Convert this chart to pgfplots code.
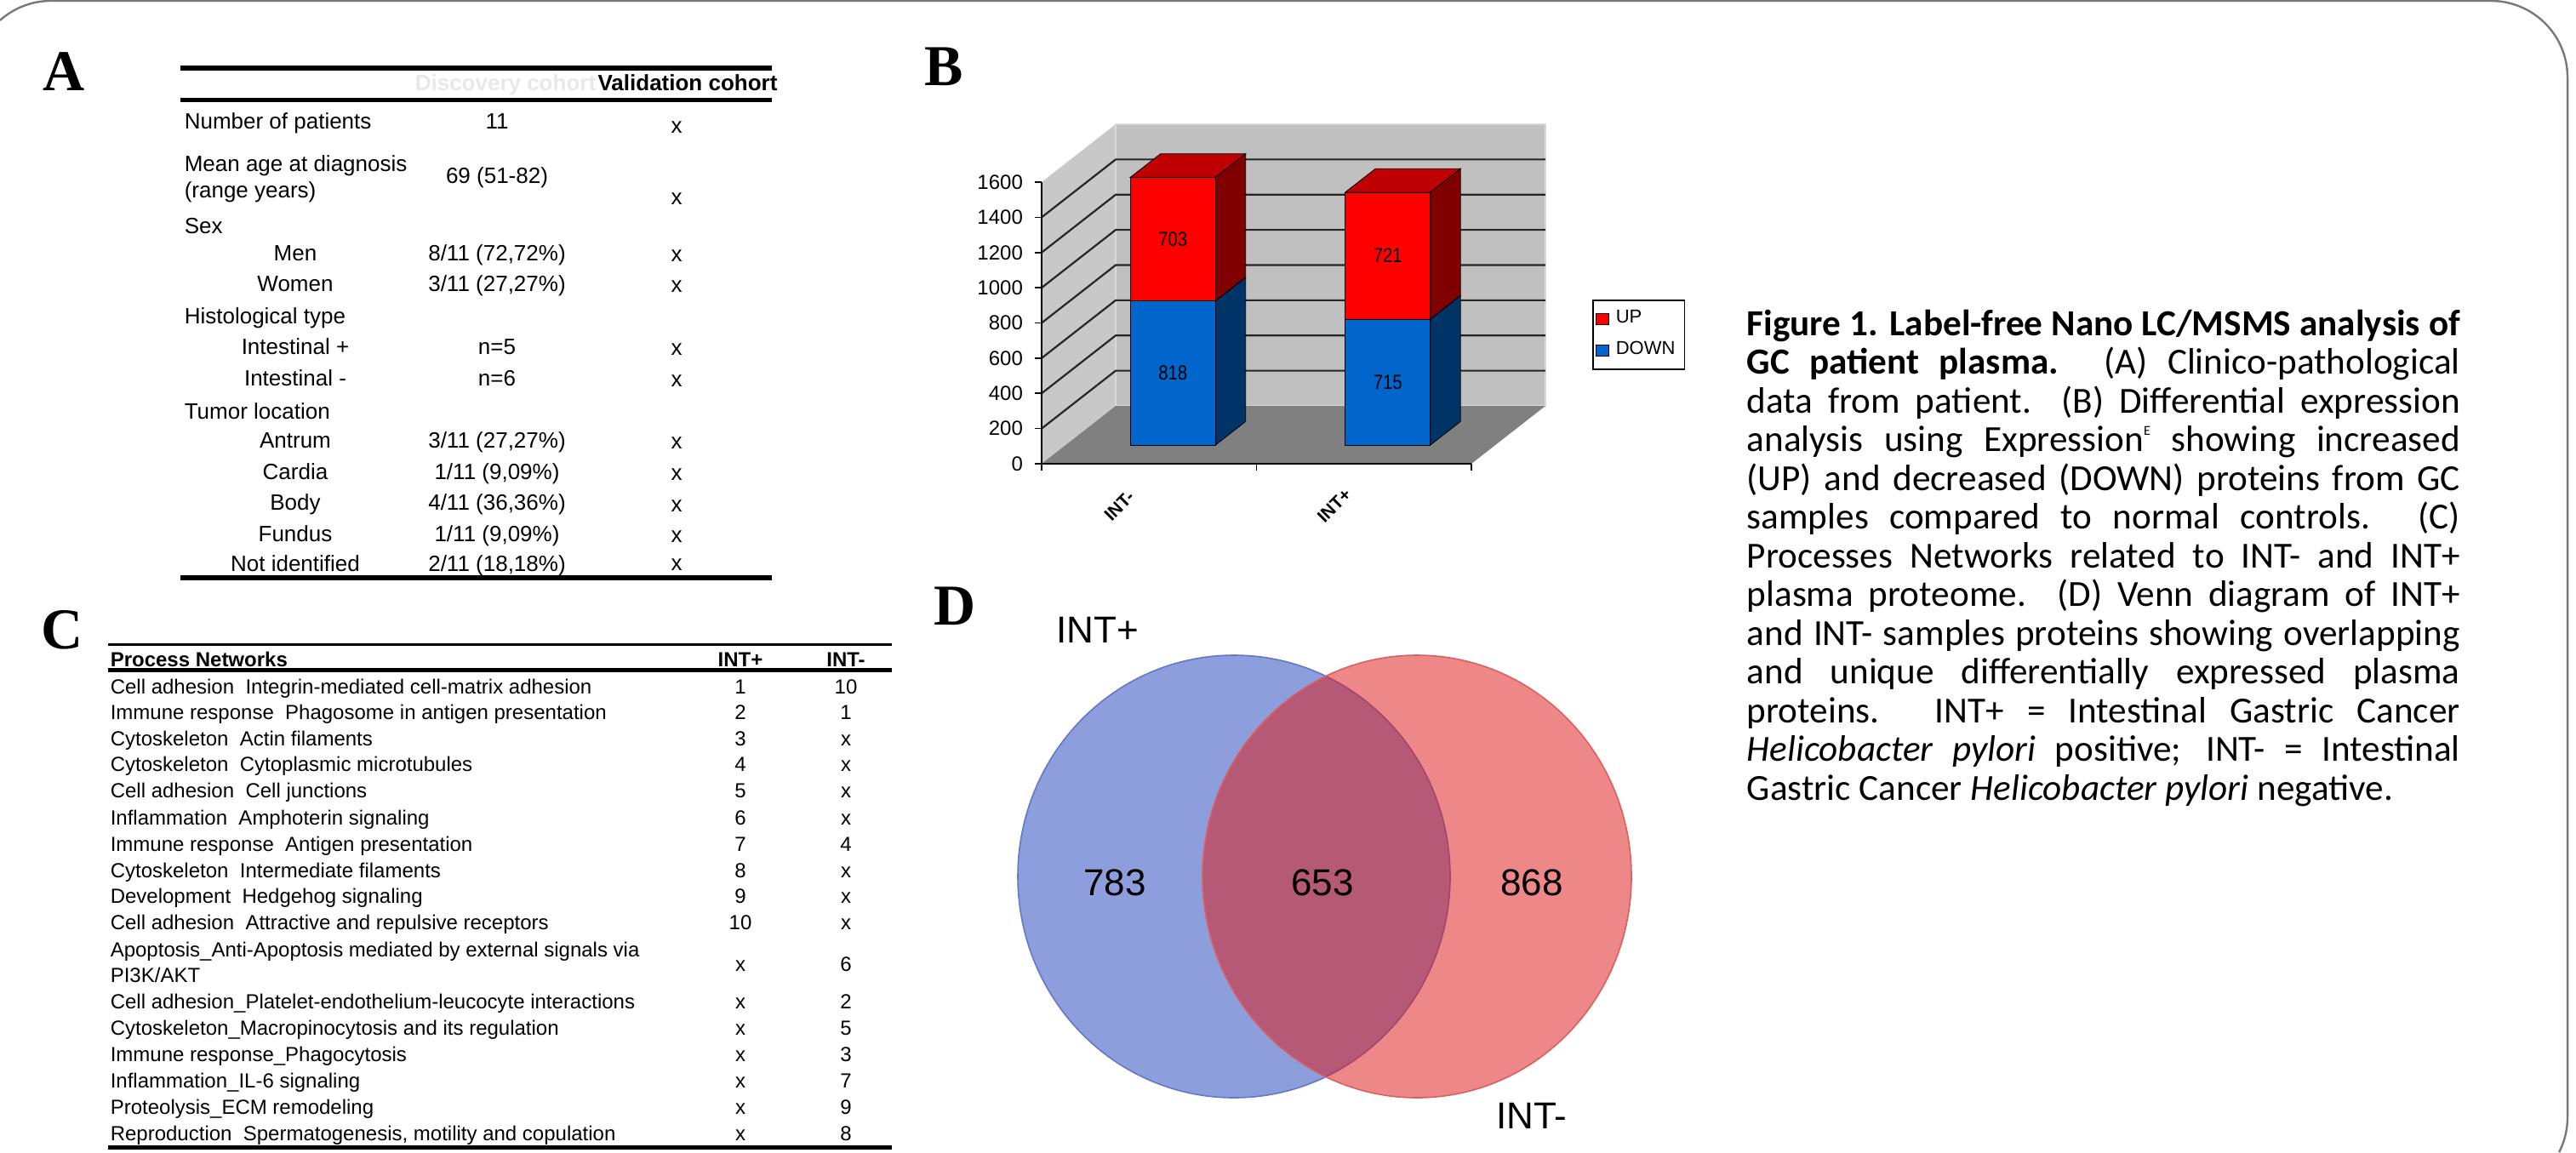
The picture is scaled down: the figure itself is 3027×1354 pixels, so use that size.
\documentclass[border=0pt]{standalone}
\usepackage{fontspec}
\setmainfont{Liberation Sans}
\newfontfamily\serifface{Liberation Serif}
\newfontfamily\calibri{Carlito}
\newfontfamily\narrowsans{Liberation Sans}[FakeStretch=0.85]
\usepackage{pgfplots}
\usepackage{pgfplotstable}
\pgfplotsset{compat=1.18}

\definecolor{upfront}{RGB}{255,0,0}
\definecolor{upside}{RGB}{128,0,0}
\definecolor{uptop}{RGB}{190,0,0}
\definecolor{dnfront}{RGB}{0,102,204}
\definecolor{dnside}{RGB}{0,51,102}
\definecolor{wallback}{RGB}{192,192,192}
\definecolor{wallleft}{RGB}{200,200,200}
\definecolor{floorc}{RGB}{128,128,128}
\definecolor{vblue}{RGB}{140,158,219}
\definecolor{vblueedge}{RGB}{100,120,200}
\definecolor{vred}{RGB}{222,26,26}
\definecolor{vrededge}{RGB}{220,95,95}
\definecolor{framec}{RGB}{120,120,120}

% Panel B data: differentially expressed proteins
\pgfplotstableread{
x down up
0.5 818 703
1.5 715 721
}\protB
\pgfplotstablegetelem{0}{x}\of\protB\let\xA\pgfplotsretval
\pgfplotstablegetelem{0}{down}\of\protB\let\dA\pgfplotsretval
\pgfplotstablegetelem{0}{up}\of\protB\let\uA\pgfplotsretval
\pgfplotstablegetelem{1}{x}\of\protB\let\xB\pgfplotsretval
\pgfplotstablegetelem{1}{down}\of\protB\let\dB\pgfplotsretval
\pgfplotstablegetelem{1}{up}\of\protB\let\uB\pgfplotsretval
\pgfmathsetmacro\tA{\dA+\uA}\pgfmathsetmacro\tB{\dB+\uB}%
\pgfmathsetmacro\mdA{\dA/2}\pgfmathsetmacro\mdB{\dB/2}%
\pgfmathsetmacro\muA{\dA+\uA/2}\pgfmathsetmacro\muB{\dB+\uB/2}%

\newcommand\fs[2]{\fontsize{#1}{#2}\selectfont}
\def\H{1354}

% table A helpers
\newcommand\Ltxt[2]{\node[anchor=base west,inner sep=0pt,font=\fs{6.5}{7.8}] at (216,\H-#1) {#2};}
\newcommand\Ctxt[3]{\node[anchor=base,inner sep=0pt,font=\fs{6.5}{7.8}] at (#1,\H-#2) {#3};}
% table C helper
\newcommand\Crow[4]{%
  \node[anchor=base west,inner sep=0pt,font=\fs{6}{7.2}] at (129,\H-#1) {#2};
  \node[anchor=base,inner sep=0pt,font=\fs{6}{7.2}] at (870,\H-#1) {#3};
  \node[anchor=base,inner sep=0pt,font=\fs{6}{7.2}] at (994,\H-#1) {#4};}
% caption helper
\newcommand\capl[2]{\node[anchor=base west,inner sep=0pt,font=\calibri\fs{10.8}{13}] at (2052,\H-#1) {\makebox[209.5pt][s]{#2}};}
% 3D faces of a stacked bar (drawn in the bar axis)
\newcommand\barfaces[3]{%
  \fill[dnside,draw=black,line width=0.2pt] ([xshift=12.5pt]axis cs:#1,0) -- ([xshift=12.5pt]axis cs:#1,#2) -- ([xshift=21.35pt,yshift=6.9pt]axis cs:#1,#2) -- ([xshift=21.35pt,yshift=6.9pt]axis cs:#1,0) -- cycle;
  \fill[upside,draw=black,line width=0.2pt] ([xshift=12.5pt]axis cs:#1,#2) -- ([xshift=12.5pt]axis cs:#1,#3) -- ([xshift=21.35pt,yshift=6.9pt]axis cs:#1,#3) -- ([xshift=21.35pt,yshift=6.9pt]axis cs:#1,#2) -- cycle;
  \fill[uptop,draw=black,line width=0.2pt] ([xshift=-12.5pt]axis cs:#1,#3) -- ([xshift=12.5pt]axis cs:#1,#3) -- ([xshift=21.35pt,yshift=6.9pt]axis cs:#1,#3) -- ([xshift=-3.65pt,yshift=6.9pt]axis cs:#1,#3) -- cycle;}

\begin{document}
\begin{tikzpicture}[x=0.25pt,y=0.25pt]
\useasboundingbox (0,0) rectangle (3027,1354);
% rounded frame (only the visible part)
\draw[framec,line width=0.6pt] (0,1330.1) arc[start angle=131.81, end angle=90, radius=90]
  -- (2927,1353) arc[start angle=90, end angle=0, radius=90] -- (3017,41)
  arc[start angle=0, end angle=-27.1, radius=90];

% panel letters
\node[anchor=base,inner sep=0pt,font=\serifface\bfseries\fs{17}{20}] at (75,\H-106) {A};
\node[anchor=base,inner sep=0pt,font=\serifface\bfseries\fs{17}{20}] at (1109,\H-100) {B};
\node[anchor=base,inner sep=0pt,font=\serifface\bfseries\fs{17}{20}] at (73,\H-762) {C};
\node[anchor=base,inner sep=0pt,font=\serifface\bfseries\fs{17}{20}] at (1122,\H-734) {D};

% ---------- Table A ----------
\draw[line width=1.5pt] (212,\H-80) -- (907,\H-80);
\draw[line width=1.25pt] (212,\H-117) -- (907,\H-117);
\draw[line width=1.5pt] (212,\H-679) -- (907,\H-679);
\node[anchor=base,inner sep=0pt,font=\bfseries\fs{6.5}{7.8},text=black!9] at (594,\H-106) {Discovery cohort};
\node[anchor=base,inner sep=0pt,font=\bfseries\fs{6.5}{7.8}] at (808,\H-106) {Validation cohort};
\Ltxt{151}{Number of patients}
\Ltxt{201}{Mean age at diagnosis}
\Ltxt{232}{(range years)}
\Ltxt{274}{Sex}
\Ltxt{380}{Histological type}
\Ltxt{492}{Tumor location}
\Ctxt{347}{306}{Men}
\Ctxt{347}{342}{Women}
\Ctxt{347}{416}{Intestinal +}
\Ctxt{347}{453}{Intestinal -}
\Ctxt{347}{526}{Antrum}
\Ctxt{347}{563}{Cardia}
\Ctxt{347}{599}{Body}
\Ctxt{347}{636}{Fundus}
\Ctxt{347}{671}{Not identified}
\Ctxt{584}{151}{11}
\Ctxt{584}{215}{69 (51-82)}
\Ctxt{584}{306}{8/11 (72,72\%)}
\Ctxt{584}{342}{3/11 (27,27\%)}
\Ctxt{584}{416}{n=5}
\Ctxt{584}{453}{n=6}
\Ctxt{584}{526}{3/11 (27,27\%)}
\Ctxt{584}{563}{1/11 (9,09\%)}
\Ctxt{584}{599}{4/11 (36,36\%)}
\Ctxt{584}{636}{1/11 (9,09\%)}
\Ctxt{584}{671}{2/11 (18,18\%)}
\Ctxt{795}{156}{x}
\Ctxt{795}{240}{x}
\Ctxt{795}{307}{x}
\Ctxt{795}{343}{x}
\Ctxt{795}{417}{x}
\Ctxt{795}{454}{x}
\Ctxt{795}{527}{x}
\Ctxt{795}{564}{x}
\Ctxt{795}{601}{x}
\Ctxt{795}{637}{x}
\Ctxt{795}{670}{x}

% ---------- Table C ----------
\draw[line width=0.8pt] (127,\H-757.5) -- (1048,\H-757.5);
\draw[line width=1.2pt] (127,\H-787.5) -- (1048,\H-787.5);
\draw[line width=1.1pt] (127,\H-1348.5) -- (1048,\H-1348.5);
\node[anchor=base west,inner sep=0pt,font=\bfseries\fs{6}{7.2}] at (129,\H-783) {Process Networks};
\node[anchor=base,inner sep=0pt,font=\bfseries\fs{6}{7.2}] at (870,\H-783) {INT+};
\node[anchor=base,inner sep=0pt,font=\bfseries\fs{6}{7.2}] at (994,\H-783) {INT-};
\Crow{815.5}{Cell adhesion\ \ Integrin-mediated cell-matrix adhesion}{1}{10}
\Crow{845.5}{Immune response\ \ Phagosome in antigen presentation}{2}{1}
\Crow{876.5}{Cytoskeleton\ \ Actin filaments}{3}{x}
\Crow{906.5}{Cytoskeleton\ \ Cytoplasmic microtubules}{4}{x}
\Crow{937.5}{Cell adhesion\ \ Cell junctions}{5}{x}
\Crow{969.5}{Inflammation\ \ Amphoterin signaling}{6}{x}
\Crow{1000.5}{Immune response\ \ Antigen presentation}{7}{4}
\Crow{1031.5}{Cytoskeleton\ \ Intermediate filaments}{8}{x}
\Crow{1061.5}{Development\ \ Hedgehog signaling}{9}{x}
\Crow{1092.5}{Cell adhesion\ \ Attractive and repulsive receptors}{10}{x}
\Crow{1124.5}{Apoptosis\_Anti-Apoptosis mediated by external signals via}{}{}
\Crow{1141.5}{}{x}{6}
\Crow{1154.5}{PI3K/AKT}{}{}
\Crow{1185.5}{Cell adhesion\_Platelet-endothelium-leucocyte interactions}{x}{2}
\Crow{1216.5}{Cytoskeleton\_Macropinocytosis and its regulation}{x}{5}
\Crow{1247.5}{Immune response\_Phagocytosis}{x}{3}
\Crow{1278.5}{Inflammation\_IL-6 signaling}{x}{7}
\Crow{1309.5}{Proteolysis\_ECM remodeling}{x}{9}
\Crow{1340.5}{Reproduction\ \ Spermatogenesis, motility and copulation}{x}{8}

% ---------- Panel B: walls, floor, axes ----------
\begin{axis}[at={(306pt,202.25pt)}, anchor=south west, scale only axis,
  width=126.25pt, height=82.75pt, xmin=0, xmax=2, ymin=0, ymax=1600,
  clip=false, axis on top,
  axis x line*=bottom, axis y line*=left,
  axis line style={line width=0.4pt, black},
  tick align=outside, major tick length=2pt, tick style={black, line width=0.4pt},
  ytick={0,200,...,1600}, xtick={0,1,2}, xticklabels={},
  extra x ticks={0.5,1.5}, extra x tick labels={INT-,INT+},
  extra x tick style={major tick length=0pt,
    xticklabel style={font=\bfseries\fs{5.25}{6}, anchor=center, xshift=-8.75pt, yshift=-12.25pt, rotate=45}},
  yticklabel style={font=\fs{6}{7}},
  /pgf/number format/assume math mode=true, /pgf/number format/1000 sep={}]
\fill[wallleft] (axis cs:0,0) -- (axis cs:0,1600) -- ++(21.75pt,17pt) -- ([xshift=21.75pt,yshift=17pt]axis cs:0,0) -- cycle;
\fill[wallback,draw=black!15,line width=0.3pt] ([xshift=21.75pt,yshift=17pt]axis cs:0,0) rectangle ([xshift=21.75pt,yshift=17pt]axis cs:2,1600);
\fill[floorc] (axis cs:0,0) -- (axis cs:2,0) -- ++(21.75pt,17pt) -- ([xshift=21.75pt,yshift=17pt]axis cs:0,0) -- cycle;
\pgfplotsinvokeforeach{200,400,600,800,1000,1200,1400}{
  \draw[black!85,line width=0.55pt] (axis cs:0,#1) -- ++(21.75pt,17pt) -- ++(126.25pt,0pt);}
\end{axis}

% ---------- Panel B: stacked 3D bars ----------
\begin{axis}[at={(313pt,207.75pt)}, anchor=south west, scale only axis,
  width=126.25pt, height=82.75pt, xmin=0, xmax=2, ymin=0, ymax=1600,
  hide axis, clip=false, ybar stacked, bar width=25pt,
  legend style={at={(1.2257,0.5166)}, anchor=north west, draw=black, line width=0.4pt,
    font=\fs{5.5}{6.6}, inner xsep=0.8pt, inner ysep=0.8pt, row sep=0pt, cells={anchor=west},
    /tikz/every even column/.append style={column sep=0pt}},
  legend image code/.code={\draw[#1,draw=black,line width=0.2pt] (0pt,-1.6pt) rectangle (3.75pt,1.6pt);},
  reverse legend]
\addplot[fill=dnfront,draw=black,line width=0.2pt] table[x=x,y=down]{\protB};
\addlegendentry{DOWN}
\addplot[fill=upfront,draw=black,line width=0.2pt] table[x=x,y=up]{\protB};
\addlegendentry{UP}
\barfaces{\xA}{\dA}{\tA}
\barfaces{\xB}{\dB}{\tB}
\coordinate (lA1) at (axis cs:\xA,\mdA);
\coordinate (lA2) at (axis cs:\xA,\muA);
\coordinate (lB1) at (axis cs:\xB,\mdB);
\coordinate (lB2) at (axis cs:\xB,\muB);
\end{axis}
\node[font=\narrowsans\fs{6}{7}] at (lA1) {\dA};
\node[font=\narrowsans\fs{6}{7}] at (lA2) {\uA};
\node[font=\narrowsans\fs{6}{7}] at (lB1) {\dB};
\node[font=\narrowsans\fs{6}{7}] at (lB2) {\uB};

% ---------- Panel D: Venn ----------
\begin{axis}[at={(275pt,0pt)}, anchor=south west, scale only axis,
  width=225pt, height=163.5pt, xmin=1100, xmax=2000, ymin=700, ymax=1354,
  y dir=reverse, hide axis, clip=false]
\fill[vblue,draw=vblueedge,line width=0.4pt] (axis cs:1450,1030) ellipse [x radius=63.5pt, y radius=65pt];
\fill[vred,fill opacity=0.52,draw=vrededge,draw opacity=1,line width=0.4pt] (axis cs:1665,1030) ellipse [x radius=63pt, y radius=65pt];
\node[font=\fs{11}{13}] at (axis cs:1290,740) {INT+};
\node[font=\fs{11}{13}] at (axis cs:1310,1037) {783};
\node[font=\fs{11}{13}] at (axis cs:1554,1037) {653};
\node[font=\fs{11}{13}] at (axis cs:1800,1037) {868};
\node[font=\fs{11}{13}] at (axis cs:1800,1311) {INT-};
\end{axis}

% ---------- Caption ----------
\capl{394}{\textbf{Figure 1. Label-free Nano LC/MSMS analysis of}}
\capl{439.5}{\textbf{GC patient plasma.} (A) Clinico-pathological}
\capl{485}{data from patient.\ \ (B) Differential expression}
\capl{530.5}{analysis using Expression\raisebox{0.9ex}{\fs{4}{4}E} showing increased}
\capl{576}{(UP) and decreased (DOWN) proteins from GC}
\capl{621.5}{samples compared to normal controls. (C)}
\capl{667}{Processes Networks related to INT- and INT+}
\capl{712.5}{plasma proteome. (D) Venn diagram of INT+}
\capl{758}{and INT- samples proteins showing overlapping}
\capl{803.5}{and unique differentially expressed plasma}
\capl{849}{proteins. INT+ = Intestinal Gastric Cancer}
\capl{894.5}{\textit{Helicobacter pylori} positive; INT- = Intestinal}
\node[anchor=base west,inner sep=0pt,font=\calibri\fs{10.8}{13}] at (2052,\H-940) {Gastric Cancer \textit{Helicobacter pylori} negative.};
\end{tikzpicture}%
\end{document}
